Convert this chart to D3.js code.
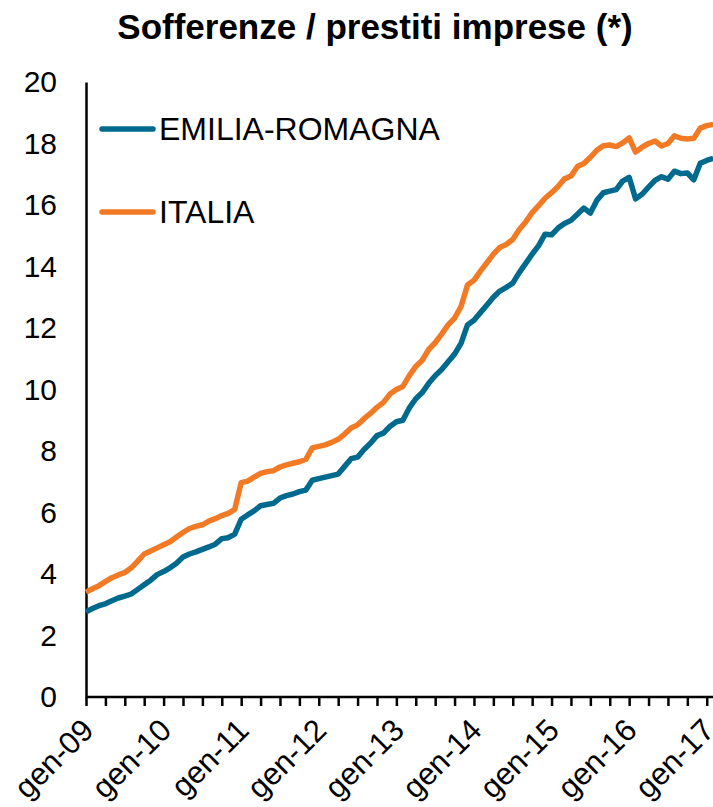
<!DOCTYPE html>
<html>
<head>
<meta charset="utf-8">
<script src="https://cdn.jsdelivr.net/npm/d3@7"></script>
<style>
	body { margin: 0; background: #fff; }
	text { font-family: "Liberation Sans", Arial, sans-serif; }
</style>
</head>
<body>
<div id="chart"></div>
<script>
var titolo = "Sofferenze / prestiti imprese (*)";
var mesi = ["gen", "feb", "mar", "apr", "mag", "giu", "lug", "ago", "set", "ott", "nov", "dic"];
var anni = ["09", "10", "11", "12", "13", "14", "15", "16", "17"];
var nomi_serie = ["EMILIA-ROMAGNA", "ITALIA"];
var y_ticks = [0, 2, 4, 6, 8, 10, 12, 14, 16, 18, 20];

// gen-09 .. feb-17, monthly
var emilia = [
	2.77, 2.88, 2.97, 3.03, 3.13, 3.22, 3.28, 3.35, 3.50, 3.65, 3.80, 3.98,
	4.08, 4.20, 4.35, 4.55, 4.65, 4.72, 4.80, 4.88, 4.97, 5.15, 5.18, 5.30,
	5.78, 5.92, 6.05, 6.22, 6.26, 6.30, 6.47, 6.55, 6.60, 6.68, 6.73, 7.05,
	7.10, 7.15, 7.20, 7.25, 7.50, 7.75, 7.80, 8.05, 8.25, 8.50, 8.58, 8.80,
	8.95, 9.00, 9.40, 9.70, 9.90, 10.20, 10.45, 10.65, 10.90, 11.15, 11.50, 12.10,
	12.25, 12.50, 12.75, 13.00, 13.20, 13.32, 13.46, 13.80, 14.10, 14.40, 14.68, 15.05,
	15.03, 15.25, 15.40, 15.50, 15.70, 15.90, 15.74, 16.15, 16.40, 16.45, 16.50, 16.78,
	16.90, 16.20, 16.35, 16.58, 16.80, 16.92, 16.84, 17.10, 17.02, 17.04, 16.82, 17.36,
	17.45, 17.52
];
var italia = [
	3.41, 3.52, 3.62, 3.75, 3.88, 3.97, 4.05, 4.20, 4.42, 4.65, 4.75, 4.85,
	4.95, 5.05, 5.20, 5.35, 5.48, 5.55, 5.60, 5.72, 5.80, 5.90, 5.97, 6.10,
	6.97, 7.02, 7.15, 7.27, 7.33, 7.36, 7.48, 7.55, 7.60, 7.65, 7.73, 8.10,
	8.15, 8.20, 8.28, 8.38, 8.55, 8.75, 8.85, 9.05, 9.22, 9.42, 9.58, 9.85,
	10.00, 10.10, 10.45, 10.75, 10.95, 11.30, 11.52, 11.80, 12.10, 12.32, 12.70, 13.40,
	13.55, 13.85, 14.12, 14.40, 14.62, 14.72, 14.88, 15.20, 15.45, 15.75, 15.98, 16.22,
	16.40, 16.60, 16.85, 16.94, 17.25, 17.35, 17.55, 17.78, 17.93, 17.95, 17.90, 18.02,
	18.18, 17.72, 17.88, 18.00, 18.08, 17.92, 18.00, 18.25, 18.17, 18.15, 18.17, 18.50,
	18.58, 18.62
];
var colori = ["#006a8e", "#f27a25"];

// category labels built from month and year lists
var categorie = [];
anni.forEach(function(a) {
	mesi.forEach(function(m) {
		if (categorie.length < emilia.length) categorie.push(m + "-" + a);
	});
});

function grafico(tag, width, height) {
	this.svg = d3.select(tag)
		.append("svg")
		.attr("width", width)
		.attr("height", height);
	this.x = d3.scalePoint()
		.domain(categorie)
		.range([86, 86 + 6.466 * (categorie.length - 1)]);
	this.y = d3.scaleLinear()
		.domain([0, 20])
		.range([697, 82]);
	this.draw();
}

grafico.prototype = {
	draw : function() {
		var self = this;
		var svg = self.svg;

		svg.append("text")
			.attr("x", 375)
			.attr("y", 39)
			.attr("text-anchor", "middle")
			.style("font-size", "35px")
			.style("font-weight", "bold")
			.text(titolo);

		// y axis: line + labels, no ticks
		var yAxis = d3.axisLeft(self.y)
			.tickValues(y_ticks)
			.tickSize(0)
			.tickPadding(29);
		var gy = svg.append("g")
			.attr("transform", "translate(86,0)")
			.call(yAxis);
		gy.select(".domain").attr("stroke", "#000").attr("stroke-width", 2.5);
		gy.selectAll("text")
			.style("font-size", "30px")
			.style("font-family", "Liberation Sans, Arial, sans-serif")
			.attr("fill", "#000");

		// x axis: quarterly ticks, yearly labels
		var trimestri = categorie.filter(function(d, i) { return i % 3 == 0; });
		var xAxis = d3.axisBottom(self.x)
			.tickValues(trimestri)
			.tickSize(9)
			.tickFormat(function(d) { return d.indexOf("gen") == 0 ? d : ""; });
		var gx = svg.append("g")
			.attr("transform", "translate(0,697)")
			.call(xAxis);
		gx.select(".domain")
			.attr("d", "M86,0H713")
			.attr("stroke", "#000")
			.attr("stroke-width", 2.5);
		gx.selectAll(".tick line").attr("stroke", "#000").attr("stroke-width", 2.5);
		gx.selectAll("text")
			.style("font-size", "31px")
			.style("font-family", "Liberation Sans, Arial, sans-serif")
			.attr("fill", "#000")
			.attr("text-anchor", "end")
			.attr("y", 0)
			.attr("dy", 0)
			.attr("transform", "translate(9,35) rotate(-45)");

		var line = d3.line()
			.x(function(d, i) { return self.x(categorie[i]); })
			.y(function(d) { return self.y(d); });

		[emilia, italia].forEach(function(serie, k) {
			svg.append("path")
				.datum(serie)
				.attr("fill", "none")
				.attr("stroke", colori[k])
				.attr("stroke-width", 5.5)
				.attr("stroke-linejoin", "round")
				.attr("d", line);
		});

		// legend
		var leg = svg.append("g");
		nomi_serie.forEach(function(n, k) {
			var yy = 129 + k * 83;
			leg.append("line")
				.attr("x1", 102).attr("x2", 153)
				.attr("y1", yy).attr("y2", yy)
				.attr("stroke", colori[k])
				.attr("stroke-width", 5.5)
				.attr("stroke-linecap", "round");
			leg.append("text")
				.attr("x", 159)
				.attr("y", yy + 11)
				.style("font-size", "32px")
				.text(n);
		});
	},
};

var my_chart = new grafico("#chart", 713, 807);
</script>
</body>
</html>
